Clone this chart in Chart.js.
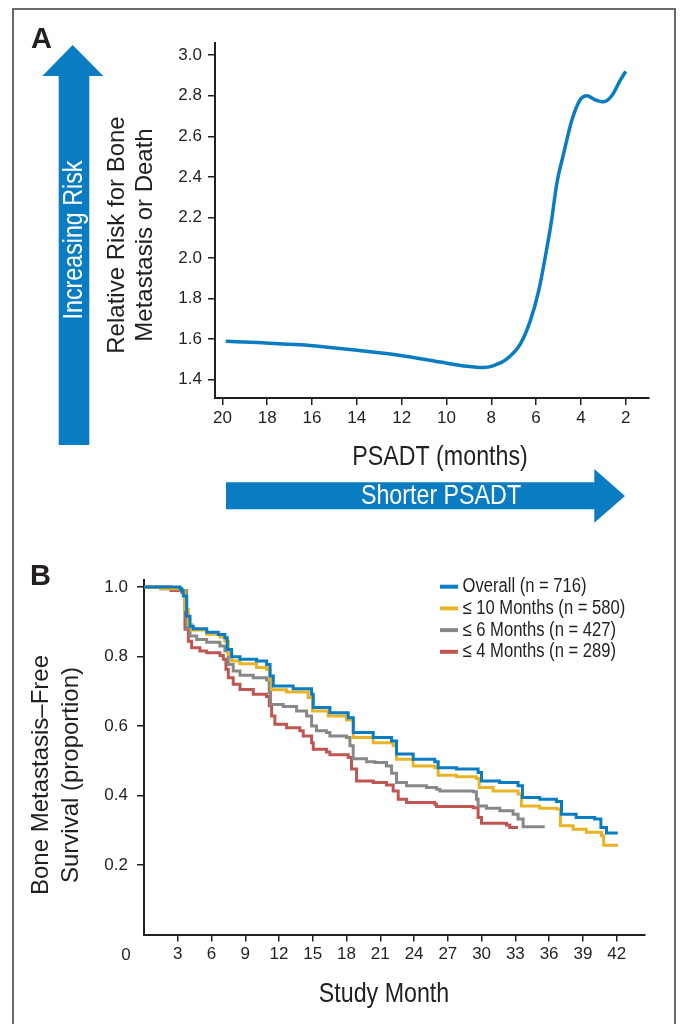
<!DOCTYPE html>
<html><head><meta charset="utf-8">
<script src="https://cdn.jsdelivr.net/npm/chart.js@4.4.1/dist/chart.umd.min.js"></script>
<style>
html,body{margin:0;padding:0;background:#fff;}
#wrap{position:relative;width:681px;height:1024px;overflow:hidden;background:#fff;}
#frame{position:absolute;left:12px;top:8px;width:664px;height:1100px;border:2px solid #6a6a6a;box-sizing:border-box;}
canvas{position:absolute;left:0;}
</style></head><body>
<div id="wrap">
<div id="frame"></div>
<canvas id="cA" width="681" height="540" style="top:0"></canvas>
<canvas id="cB" width="681" height="484" style="top:540px"></canvas>
</div>
<script>
// ---------- Panel A data ----------
const psadtMonths = [19.85, 18.44, 16.5, 15.3, 13.98, 12.05, 10.27, 9.08, 8.34, 7.89, 7.3, 6.7, 6.26, 5.88, 5.59, 5.33, 5.07, 4.77, 4.4, 4.03, 3.73, 3.36, 2.99, 2.62, 2.24, 2.0];
const relativeRisk = [1.59, 1.583, 1.572, 1.56, 1.545, 1.52, 1.487, 1.466, 1.46, 1.47, 1.503, 1.577, 1.69, 1.84, 2.005, 2.17, 2.37, 2.515, 2.68, 2.78, 2.80, 2.78, 2.77, 2.80, 2.877, 2.92];
const psadtTicks = [20, 18, 16, 14, 12, 10, 8, 6, 4, 2];
const riskTicks = [1.4, 1.6, 1.8, 2.0, 2.2, 2.4, 2.6, 2.8, 3.0];

// ---------- Panel B data ----------
const seriesLabels = ['Overall (n = 716)', '\u2264 10 Months (n = 580)', '\u2264 6 Months (n = 427)', '\u2264 4 Months (n = 289)'];
const overallMonths = [0, 3.2, 3.35, 3.49, 3.79, 4.09, 4.38, 5.57, 6.6, 7.19, 7.4, 7.79, 8.53, 10.0, 10.9, 11.2, 11.49, 13.26, 14.89, 15.04, 16.52, 18.15, 18.6, 20.37, 22.0, 22.44, 23.92, 25.84, 26.14, 27.77, 29.69, 29.99, 31.6, 33.24, 33.63, 35.17, 36.65, 37.1, 38.4, 40.05, 40.6, 41.1, 42.1];
const overallSurv = [1.0, 0.995, 0.99, 0.974, 0.916, 0.887, 0.880, 0.870, 0.863, 0.854, 0.82, 0.799, 0.792, 0.787, 0.777, 0.744, 0.715, 0.707, 0.691, 0.653, 0.638, 0.624, 0.581, 0.567, 0.557, 0.519, 0.504, 0.497, 0.480, 0.476, 0.466, 0.442, 0.437, 0.428, 0.394, 0.389, 0.383, 0.346, 0.337, 0.332, 0.308, 0.292, 0.292];
const le10Months = [0, 1.5, 3.3, 3.64, 3.94, 4.23, 5.57, 6.75, 7.19, 7.49, 7.79, 8.53, 10.0, 10.89, 11.19, 11.34, 12.67, 14.59, 14.98, 16.37, 18.0, 18.59, 20.37, 22.14, 22.44, 23.92, 25.84, 26.14, 27.77, 29.54, 29.78, 31.02, 33.24, 33.54, 35.17, 36.65, 37.0, 38.13, 39.31, 40.65, 40.85, 42.13];
const le10Surv = [1.0, 0.995, 0.99, 0.935, 0.892, 0.876, 0.864, 0.856, 0.844, 0.806, 0.787, 0.779, 0.768, 0.763, 0.734, 0.704, 0.698, 0.682, 0.643, 0.629, 0.617, 0.567, 0.552, 0.543, 0.504, 0.485, 0.480, 0.458, 0.454, 0.449, 0.423, 0.413, 0.404, 0.370, 0.363, 0.361, 0.313, 0.303, 0.294, 0.284, 0.257, 0.257];
const le6Months = [0, 1.5, 3.35, 3.79, 4.09, 4.68, 5.57, 6.75, 7.19, 7.49, 7.93, 8.53, 9.71, 10.89, 11.13, 11.25, 12.37, 13.56, 14.45, 14.89, 15.33, 16.22, 16.52, 18.0, 18.3, 18.59, 19.78, 20.52, 21.55, 22.0, 22.44, 23.33, 25.1, 26.0, 26.29, 29.25, 29.54, 29.69, 30.43, 31.62, 32.8, 33.24, 33.69, 35.61];
const le6Surv = [1.0, 0.995, 0.99, 0.882, 0.859, 0.849, 0.841, 0.830, 0.816, 0.777, 0.758, 0.746, 0.739, 0.732, 0.696, 0.662, 0.656, 0.643, 0.629, 0.600, 0.586, 0.581, 0.571, 0.567, 0.543, 0.506, 0.497, 0.495, 0.485, 0.464, 0.437, 0.428, 0.423, 0.418, 0.413, 0.411, 0.389, 0.370, 0.363, 0.356, 0.346, 0.332, 0.31, 0.31];
const le4Months = [0, 2.4, 3.35, 3.64, 3.94, 4.23, 4.97, 5.57, 6.75, 7.05, 7.28, 7.49, 7.93, 8.53, 9.71, 10.89, 11.13, 11.34, 11.63, 12.67, 13.85, 14.15, 14.89, 15.04, 16.22, 16.52, 18.15, 18.44, 18.89, 20.37, 21.55, 22.14, 22.59, 23.33, 25.84, 25.99, 29.25, 29.69, 29.99, 32.21, 32.5, 33.24];
const le4Surv = [1.0, 0.99, 0.985, 0.878, 0.844, 0.825, 0.816, 0.811, 0.803, 0.792, 0.763, 0.739, 0.720, 0.705, 0.691, 0.685, 0.658, 0.629, 0.605, 0.595, 0.586, 0.571, 0.552, 0.533, 0.525, 0.517, 0.509, 0.476, 0.442, 0.437, 0.430, 0.413, 0.389, 0.380, 0.375, 0.368, 0.365, 0.337, 0.320, 0.315, 0.308, 0.308];
const studyMonthTicks = [3, 6, 9, 12, 15, 18, 21, 24, 27, 30, 33, 36, 39, 42];
const originLabel = '0';
const survivalTicks = [0.2, 0.4, 0.6, 0.8, 1.0];

// ---------- styles ----------
const SANS = '"Liberation Sans", Arial, Helvetica, sans-serif';
const NARROW_SCALE = 0.83;   // horizontal compression to mimic a condensed face
const TEXT = '#231f20';
const BLUE = '#0a7cc1';
const COLORS = [BLUE, '#e8b325', '#888888', '#bf5651'];

const pts = (xs, ys) => xs.map((x, i) => ({x, y: ys[i]}));

const decorPlugin = {
  id: 'decor',
  afterDraw(chart, args, opts) {
    const ctx = chart.ctx;
    ctx.save();
    (opts.arrows || []).forEach(a => {
      ctx.fillStyle = a.color;
      ctx.beginPath();
      a.points.forEach((p, i) => i ? ctx.lineTo(p[0], p[1]) : ctx.moveTo(p[0], p[1]));
      ctx.closePath();
      ctx.fill();
    });
    (opts.texts || []).forEach(t => {
      ctx.save();
      ctx.translate(t.x, t.y);
      if (t.rotation) ctx.rotate(t.rotation);
      if (t.scaleX) ctx.scale(t.scaleX, 1);
      ctx.font = t.font;
      ctx.fillStyle = t.color;
      ctx.textAlign = t.align || 'center';
      ctx.textBaseline = t.baseline || 'middle';
      [].concat(t.text).forEach((line, i) => ctx.fillText(line, 0, i * (t.lineHeight || 0)));
      ctx.restore();
    });
    if (opts.legend) {
      const L = opts.legend;
      chart.data.datasets.forEach((ds, i) => {
        const cy = L.y + i * L.rowHeight;
        ctx.strokeStyle = ds.borderColor;
        ctx.lineWidth = L.lineWidth;
        ctx.lineCap = 'butt';
        ctx.beginPath();
        ctx.moveTo(L.x, cy);
        ctx.lineTo(L.x + L.sampleWidth, cy);
        ctx.stroke();
        ctx.save();
        ctx.translate(L.x + L.sampleWidth + L.gap, cy);
        ctx.scale(L.scaleX || 1, 1);
        ctx.fillStyle = L.color;
        ctx.font = L.font;
        ctx.textAlign = 'left';
        ctx.textBaseline = 'middle';
        ctx.fillText(ds.label, 0, 0);
        ctx.restore();
      });
    }
    ctx.restore();
  }
};

const axisCommon = (fontSize, pad) => ({
  ticks: { font: { family: SANS, size: fontSize }, color: TEXT, padding: pad, maxRotation: 0, autoSkip: false },
  grid: { drawOnChartArea: false, drawTicks: true, tickLength: 7, color: TEXT, lineWidth: 1.5 },
  border: { display: true, color: TEXT, width: 2 }
});

// ---------- Chart A ----------
new Chart(document.getElementById('cA'), {
  type: 'line',
  data: { datasets: [{ label: 'Relative risk', data: pts(psadtMonths, relativeRisk), borderColor: BLUE, borderWidth: 3.5, pointRadius: 0, cubicInterpolationMode: 'monotone', fill: false }] },
  options: {
    responsive: false, animation: false, devicePixelRatio: 1,
    layout: { padding: { left: 10, top: 43, right: 32, bottom: 10 } },
    plugins: {
      legend: { display: false }, tooltip: { enabled: false },
      decor: {
        arrows: [
          { color: BLUE, points: [[58.7, 445], [58.7, 76], [42.3, 76], [72.7, 45], [103.3, 76], [89.3, 76], [89.3, 445]] },
          { color: BLUE, points: [[226, 482.3], [594.3, 482.3], [594.3, 469], [625, 496], [594.3, 522.7], [594.3, 509.3], [226, 509.3]] }
        ],
        texts: [
          { text: 'A', x: 31, y: 48.3, font: 'bold 29px ' + SANS, color: TEXT, align: 'left', baseline: 'alphabetic' },
          { text: 'Increasing Risk', x: 74, y: 240, rotation: -Math.PI / 2, scaleX: NARROW_SCALE, font: '28px ' + SANS, color: '#ffffff' },
          { text: ['Relative Risk for Bone', 'Metastasis or Death'], x: 117, y: 235, lineHeight: 28, rotation: -Math.PI / 2, font: '24px ' + SANS, color: TEXT },
          { text: 'PSADT (months)', x: 440, y: 457, scaleX: NARROW_SCALE, font: '28px ' + SANS, color: TEXT },
          { text: 'Shorter PSADT', x: 441, y: 496, scaleX: NARROW_SCALE, font: '28px ' + SANS, color: '#ffffff' }
        ]
      }
    },
    scales: {
      x: Object.assign(axisCommon(17, 3), {
        type: 'linear', reverse: true, min: 0.96, max: 20.33,
        afterFit: s => { s.height = 540 - 10 - 398; },
        afterBuildTicks: s => { s.ticks = psadtTicks.map(v => ({ value: v })); }
      }),
      y: Object.assign(axisCommon(17, 6), {
        type: 'linear', min: 1.31, max: 3.06,
        afterFit: s => { s.width = 215 - 10; },
        afterBuildTicks: s => { s.ticks = riskTicks.map(v => ({ value: v })); }
      })
    }
  },
  plugins: [decorPlugin]
});
</script>
<script>
// ---------- Chart B ----------
(function () {
  const yCfg = axisCommon(17, 9);
  yCfg.ticks.callback = v => v.toFixed(1);
  new Chart(document.getElementById('cB'), {
    type: 'line',
    data: {
      datasets: [
        { label: seriesLabels[0], data: pts(overallMonths, overallSurv) },
        { label: seriesLabels[1], data: pts(le10Months, le10Surv) },
        { label: seriesLabels[2], data: pts(le6Months, le6Surv) },
        { label: seriesLabels[3], data: pts(le4Months, le4Surv) }
      ].map((d, i) => Object.assign(d, { borderColor: COLORS[i], backgroundColor: COLORS[i], borderWidth: 3, pointRadius: 0, stepped: 'before', fill: false }))
    },
    options: {
      responsive: false, animation: false, devicePixelRatio: 1,
      layout: { padding: { left: 10, top: 40, right: 36, bottom: 10 } },
      plugins: {
        legend: { display: false }, tooltip: { enabled: false },
        decor: {
          texts: [
            { text: 'B', x: 30, y: 45, font: 'bold 29px ' + SANS, color: TEXT, align: 'left', baseline: 'alphabetic' },
            { text: ['Bone Metastasis\u2013Free', 'Survival (proportion)'], x: 41, y: 235, lineHeight: 30, rotation: -Math.PI / 2, font: '24px ' + SANS, color: TEXT },
            { text: 'Study Month', x: 384, y: 454, scaleX: NARROW_SCALE, font: '28px ' + SANS, color: TEXT },
            { text: originLabel, x: 126, y: 415, font: '17px ' + SANS, color: TEXT }
          ],
          legend: { x: 440, y: 46.7, rowHeight: 21.7, sampleWidth: 18, gap: 4.5, lineWidth: 4, font: '20px ' + SANS, scaleX: NARROW_SCALE, color: TEXT }
        }
      },
      scales: {
        x: Object.assign(axisCommon(17, 3), {
          type: 'linear', min: 0, max: 44.52,
          afterFit: s => { s.height = 484 - 10 - 394.5; },
          afterBuildTicks: s => { s.ticks = studyMonthTicks.map(v => ({ value: v })); }
        }),
        y: Object.assign(yCfg, {
          type: 'linear', min: 0, max: 1.02,
          afterFit: s => { s.width = 144 - 10; },
          afterBuildTicks: s => { s.ticks = survivalTicks.map(v => ({ value: v })); }
        })
      }
    },
    plugins: [decorPlugin]
  });
})();
</script>
</body></html>
